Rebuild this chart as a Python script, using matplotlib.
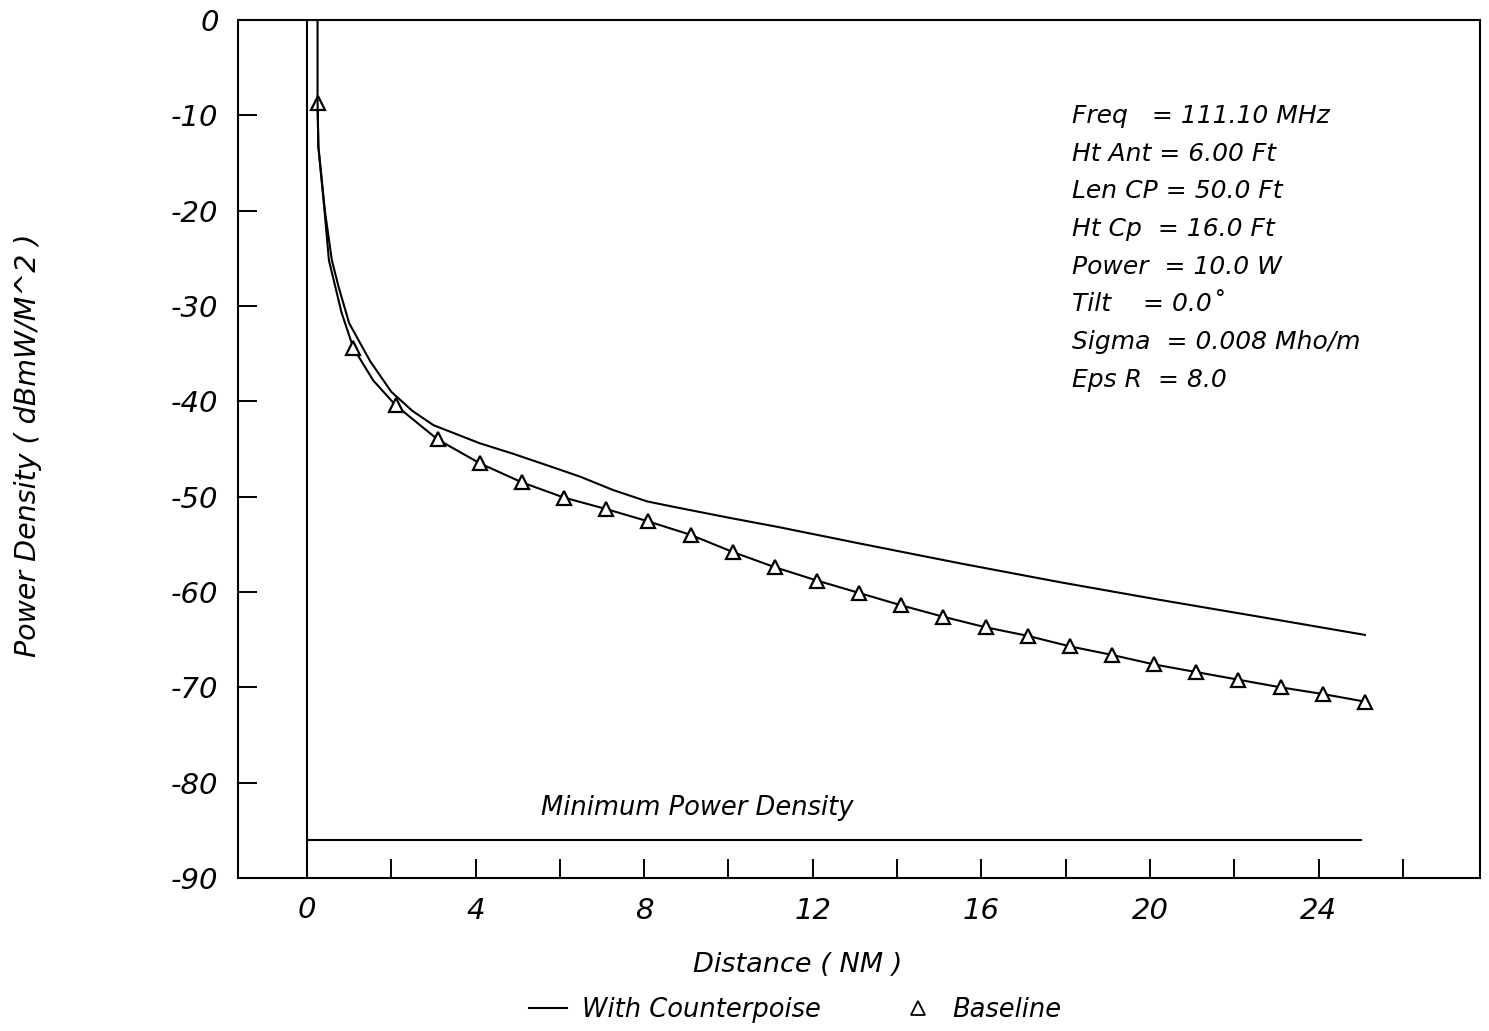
import numpy as np
import matplotlib
matplotlib.use("Agg")
import matplotlib.pyplot as plt
from matplotlib.lines import Line2D

plt.rcParams['font.family'] = ['DejaVu Sans']
plt.rcParams['font.style'] = 'italic'
plt.rcParams['axes.unicode_minus'] = False

# with counterpoise curve
cp_x = [0.25, 0.25, 0.27, 0.43, 0.59, 0.75, 1.0, 1.5, 2.0, 2.5, 3.0, 4.1, 4.89,
        5.69, 6.48, 7.26, 8.07, 8.85, 10.0, 11.2, 13.1, 15.5, 17.9, 20.2, 22.6, 25.1]
cp_y = [0.0, -8.5, -13.3, -20.2, -25.2, -28.0, -31.8, -35.8, -39.0, -41.0, -42.5, -44.4, -45.5,
        -46.7, -47.9, -49.3, -50.5, -51.2, -52.2, -53.2, -54.9, -57.0, -59.0, -60.8, -62.6, -64.5]

# baseline samples (triangles)
base_x = [0.25] + [k + 0.1 for k in range(1, 26)]
base_y = [-8.7, -34.4, -40.4, -44.0, -46.5, -48.5, -50.1, -51.3, -52.6, -54.0,
          -55.8, -57.4, -58.8, -60.1, -61.4, -62.6, -63.7, -64.6, -65.7, -66.6,
          -67.6, -68.4, -69.2, -70.0, -70.7, -71.5]
# extra points read on the baseline curve near the steep start
base_head_x = [0.27, 0.42, 0.52, 0.82]
base_head_y = [-13.3, -20.2, -25.2, -30.7]
base_mid_x = 1.57
base_mid_y = -37.8

min_density = -86.0
min_x = [0, 25]

params = ["Freq   = 111.10 MHz",
          "Ht Ant = 6.00 Ft",
          "Len CP = 50.0 Ft",
          "Ht Cp  = 16.0 Ft",
          "Power  = 10.0 W",
          "Tilt    = 0.0\u02da",
          "Sigma  = 0.008 Mho/m",
          "Eps R  = 8.0"]

fig = plt.figure(figsize=(14.89, 10.31), dpi=100)
ax = fig.add_axes([238/1489, 1-878/1031, (1480-238)/1489, (878-20)/1031])

# baseline line: head points merged with marker points
bl_x = [base_x[0]] + base_head_x + [base_x[1], base_mid_x] + base_x[2:]
bl_y = [base_y[0]] + base_head_y + [base_y[1], base_mid_y] + base_y[2:]
ax.plot(bl_x, bl_y, color='black', lw=1.5)
ax.plot(base_x, base_y, ls='none', marker='^', ms=10, mfc='white',
        mec='black', mew=1.6)
ax.plot(cp_x, cp_y, color='black', lw=1.5)

ax.axvline(0, color='black', lw=1.5)
ax.plot(min_x, [min_density, min_density], color='black', lw=1.5)
ax.text(9.25, -82.7, "Minimum Power Density", fontsize=18.5, ha='center', va='center')

for i, s in enumerate(params):
    ax.text(18.15, -10.07 - i*3.95, s, fontsize=18, ha='left', va='center')

ax.set_xlim(-1.637, 27.83)
ax.set_ylim(-90, 0)
ax.set_xticks(range(2, 27, 2))
ax.set_xticklabels(['' if v % 4 else str(v) for v in range(2, 27, 2)])
ax.set_yticks(range(-90, 1, 10))
ax.tick_params(axis='both', direction='in', length=14, width=1.4, labelsize=21)
ax.tick_params(axis='x', pad=14)
ax.tick_params(axis='y', pad=14)
# label 0 on the x axis sits under the vertical zero line
ax.text(0, -93.4, "0", fontsize=21, ha='center', va='center')
for sp in ax.spines.values():
    sp.set_linewidth(1.5)

ax.set_xlabel("Distance ( NM )", fontsize=19.5)
ax.xaxis.set_label_coords((798-238)/1242, (878-965)/858)
ax.xaxis.label.set_va('center')
ax.set_ylabel("Power Density ( dBmW/M^2 )", fontsize=20.5)
ax.yaxis.set_label_coords((28-238)/1242, (878-445)/858)
ax.yaxis.label.set_va('center')

handles = [Line2D([], [], color='black', lw=1.5),
           Line2D([], [], ls='none', marker='^', ms=10, mfc='white', mec='black', mew=1.3)]
fig.legend(handles, ["With Counterpoise", "Baseline"], loc='center',
           bbox_to_anchor=(795/1489, 1-1010/1031), ncol=2, frameon=False,
           fontsize=18.5, handlelength=1.5, handletextpad=0.6, columnspacing=3.0)

fig.savefig("out.png", dpi=100)
